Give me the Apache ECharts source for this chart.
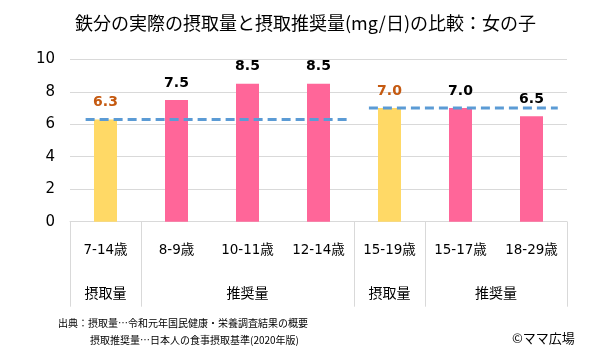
<!DOCTYPE html>
<html><head><meta charset="utf-8">
<script src="https://cdn.jsdelivr.net/npm/echarts@6/dist/echarts.min.js"></script>
<style>html,body{margin:0;padding:0;background:#fff}#c{width:611px;height:357px}</style>
</head><body><div id="c"></div>
<script>
const categories = ['7-14歳','8-9歳','10-11歳','12-14歳','15-19歳','15-17歳','18-29歳'];
const values = [6.3, 7.5, 8.5, 8.5, 7.0, 7.0, 6.5];
const barKinds = ['intake','rec','rec','rec','intake','rec','rec'];
const groupLabels = ['摂取量','推奨量','摂取量','推奨量'];
const groupCenters = [0.5, 2.5, 4.5, 6];
const groupBounds = [0, 1, 4, 5, 7];
const yTicks = [0, 2, 4, 6, 8, 10];
const intakeLine1 = [[0.22, 6.3], [3.9, 6.3]];
const intakeLine2 = [[4.21, 7.0], [6.87, 7.0]];

const colors = {intake:'#FFD966', rec:'#FF6699'};
const labelColors = {intake:'#C55A11', rec:'#000000'};
const numFont = 'DejaVu Sans, Verdana, sans-serif';
const jpFont = 'Noto Sans CJK JP, sans-serif';

const chart = echarts.init(document.getElementById('c'), null, {renderer:'canvas'});
chart.setOption({
  animation:false,
  title:{text:'鉄分の実際の摂取量と摂取推奨量(mg/日)の比較：女の子', left:'center', top:9,
    textStyle:{fontFamily:jpFont, fontSize:18, fontWeight:'normal', color:'#000'}},
  grid:{left:70, right:44, top:59.3, bottom:135.3},
  xAxis:[{
    type:'category', data:categories,
    axisLine:{lineStyle:{color:'#D9D9D9'}},
    axisTick:{show:false},
    axisLabel:{interval:0, margin:22, fontSize:13.5, color:'#000', fontFamily:numFont+', '+jpFont}
  },{
    type:'value', min:0, max:7, position:'bottom',
    axisLine:{show:false}, splitLine:{show:false},
    axisTick:{show:true, length:85, customValues:groupBounds, lineStyle:{color:'#D9D9D9'}},
    axisLabel:{customValues:groupCenters, margin:64, fontSize:14, color:'#000', fontFamily:jpFont,
      formatter:function(v){const i=groupCenters.indexOf(v);return i>=0?groupLabels[i]:'';}}
  }],
  yAxis:{type:'value', min:0, max:10, interval:2,
    axisLine:{show:false}, axisTick:{show:false},
    splitLine:{lineStyle:{color:'#D9D9D9'}},
    axisLabel:{margin:15, fontSize:15, color:'#000', fontFamily:numFont,
      formatter:function(v){return yTicks.indexOf(v)>=0?String(v):'';}}},
  series:[{
    type:'bar', barWidth:23, xAxisIndex:0,
    data: values.map((v,i)=>({value:v, itemStyle:{color:colors[barKinds[i]]},
      label:{color:labelColors[barKinds[i]]}})),
    label:{show:true, position:'top', distance:10, fontSize:14, fontWeight:'bold', fontFamily:numFont,
      formatter:p=>p.value.toFixed(1)}
  },{
    type:'line', xAxisIndex:1, data:intakeLine1, symbol:'none', z:5,
    lineStyle:{color:'#5B9BD5', width:3, type:[9,5]}
  },{
    type:'line', xAxisIndex:1, data:intakeLine2, symbol:'none', z:5,
    lineStyle:{color:'#5B9BD5', width:3, type:[9,5]}
  }],
  graphic:[
    {type:'text', left:58, top:318, style:{text:'出典：摂取量…令和元年国民健康・栄養調査結果の概要', font:'10px '+jpFont, fill:'#000'}},
    {type:'text', left:90, top:335, style:{text:'摂取推奨量…日本人の食事摂取基準(2020年版)', font:'10px '+jpFont, fill:'#000'}},
    {type:'text', left:512, top:332, style:{text:'©ママ広場', font:'13px '+jpFont, fill:'#000'}}
  ]
});
</script></body></html>
